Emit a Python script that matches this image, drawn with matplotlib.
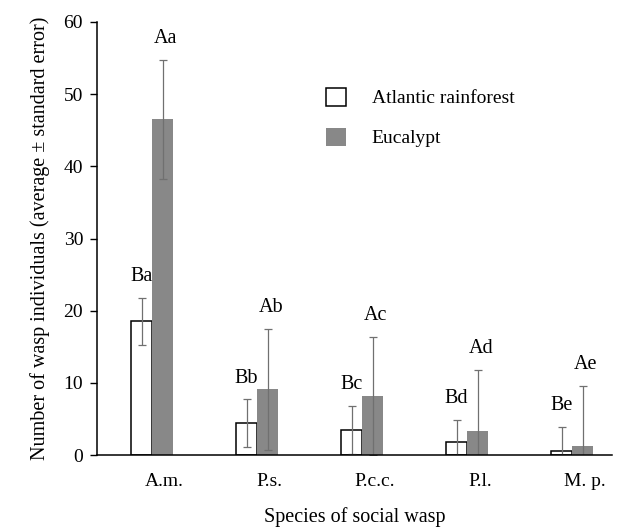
import matplotlib
matplotlib.use("Agg")
import matplotlib.pyplot as plt
import numpy as np
from matplotlib.patches import Patch

plt.rcParams['font.family'] = ['Liberation Serif', 'DejaVu Serif']

species = ["A.m.", "P.s.", "P.c.c.", "P.l.", "M. p."]
series_names = ["Atlantic rainforest", "Eucalypt"]
rainforest = [18.5, 4.4, 3.5, 1.8, 0.5]
rainforest_se = [3.3, 3.3, 3.3, 3.1, 3.4]
eucalypt = [46.5, 9.1, 8.2, 3.3, 1.3]
eucalypt_se = [8.3, 8.4, 8.2, 8.5, 8.3]
rainforest_letters = ["Ba", "Bb", "Bc", "Bd", "Be"]
eucalypt_letters = ["Aa", "Ab", "Ac", "Ad", "Ae"]
yticks = [0, 10, 20, 30, 40, 50, 60]

fig = plt.figure(figsize=(6.24, 5.30), dpi=100)
ax = fig.add_axes([97/624, 75/530, (612-97)/624, (455-22)/530])

x = np.arange(len(species))
w = 0.2
err_kw = dict(ecolor='#707070', elinewidth=0.9, capsize=3.2, capthick=0.9)
ax.bar(x - w/2, rainforest, w, color='white', edgecolor='black', linewidth=1.1,
       yerr=rainforest_se, error_kw=err_kw, zorder=2)
ax.bar(x + w/2, eucalypt, w, color='#888888', edgecolor='none',
       yerr=eucalypt_se, error_kw=err_kw, zorder=2)

for i in range(len(species)):
    ax.text(x[i] - w/2, rainforest[i] + rainforest_se[i] + 2.9, rainforest_letters[i],
            ha='center', va='center', fontsize=14.5)
    ax.text(x[i] + w/2 + 0.03, eucalypt[i] + eucalypt_se[i] + 2.9, eucalypt_letters[i],
            ha='center', va='center', fontsize=14.5)

ax.set_xlim(-0.525, 4.38)
ax.set_ylim(0, 60)
ax.set_yticks(yticks)
ax.set_xticks(x + 0.12)
ax.set_xticklabels(species, fontsize=14)
ax.tick_params(axis='x', length=0, pad=13)
ax.tick_params(axis='y', direction='out', length=5, width=1, pad=5, labelsize=14)
for s in ['top', 'right']:
    ax.spines[s].set_visible(False)
ax.spines['left'].set_linewidth(1.1)
ax.spines['bottom'].set_linewidth(1.1)

ax.set_ylabel("Number of wasp individuals (average \u00b1 standard error)", fontsize=14.5, labelpad=10)
ax.set_xlabel("Species of social wasp", fontsize=14.5, labelpad=12)

handles = [Patch(facecolor='white', edgecolor='black', linewidth=1.1),
           Patch(facecolor='#888888', edgecolor='none')]
ax.legend(handles, series_names, loc='upper left', bbox_to_anchor=(0.444, 0.848),
          frameon=False, fontsize=14, handlelength=1.03, handleheight=1.03,
          handletextpad=1.34, labelspacing=1.05, borderpad=0, borderaxespad=0)

fig.savefig("out.png", dpi=100)
